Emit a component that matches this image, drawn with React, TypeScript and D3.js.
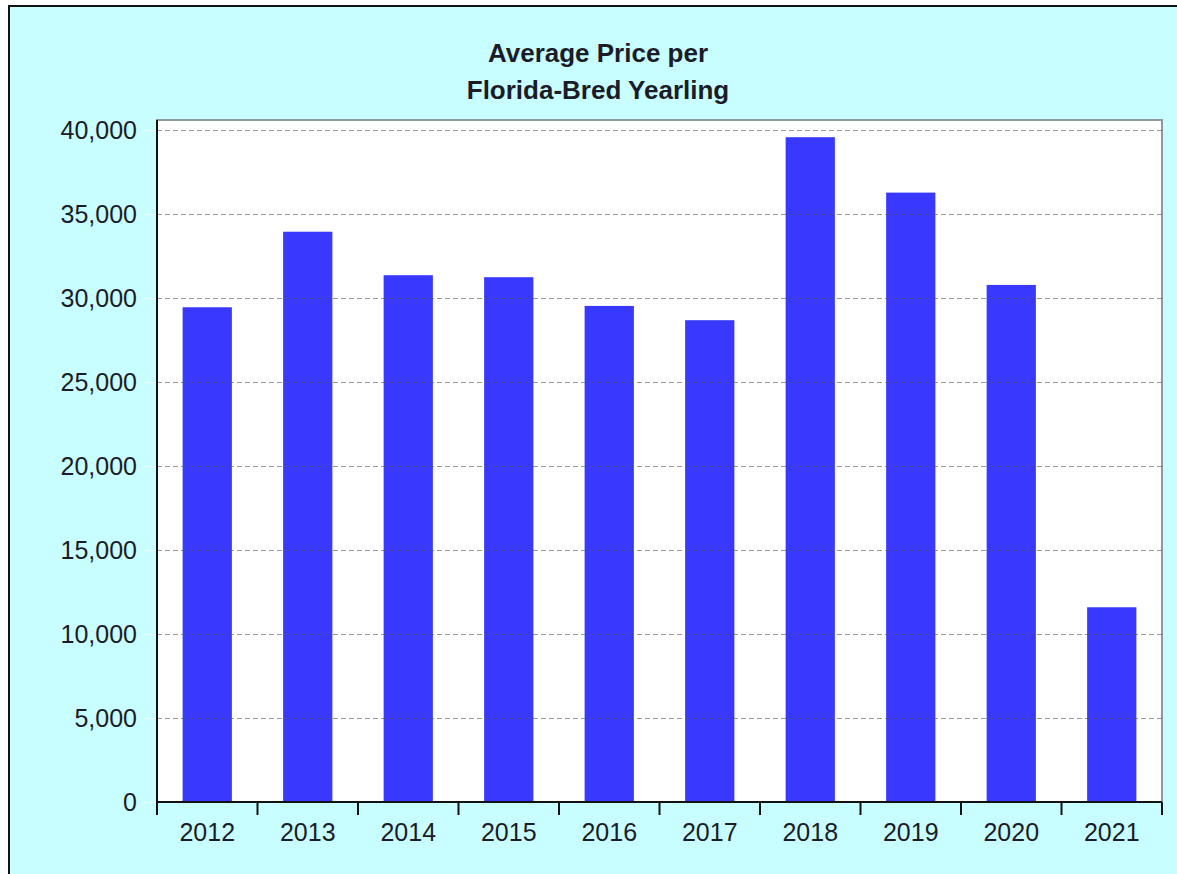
import { useEffect, useRef } from 'react';
import * as d3 from 'd3';

const years = ['2012', '2013', '2014', '2015', '2016', '2017', '2018', '2019', '2020', '2021'];
const avgPrice = [29470, 33970, 31380, 31260, 29550, 28700, 39600, 36300, 30800, 11600];
const yTicks = [0, 5000, 10000, 15000, 20000, 25000, 30000, 35000, 40000];
const titleLines = ['Average Price per', 'Florida-Bred Yearling'];

export default function App() {
  const svgRef = useRef<SVGSVGElement>(null);

  useEffect(() => {
    if (!svgRef.current) return;
    const svg = d3.select(svgRef.current);
    svg.selectAll('*').remove();

    const width = 1177;
    const height = 874;
    const plot = { left: 157, right: 1162, top: 120, bottom: 802 };
    const font = 'Arial, "Liberation Sans", sans-serif';

    // outer panel
    svg.append('rect').attr('width', width).attr('height', height).attr('fill', '#ffffff');
    svg
      .append('rect')
      .attr('x', 9)
      .attr('y', 6)
      .attr('width', width + 20)
      .attr('height', height + 20)
      .attr('fill', '#c8feff')
      .attr('stroke', '#111')
      .attr('stroke-width', 2);

    const x = d3.scaleBand().domain(years).range([plot.left, plot.right]).padding(0);
    const y = d3.scaleLinear().domain([0, 40625]).range([plot.bottom, plot.top]);

    // plot background
    svg
      .append('rect')
      .attr('x', plot.left)
      .attr('y', plot.top)
      .attr('width', plot.right - plot.left)
      .attr('height', plot.bottom - plot.top)
      .attr('fill', '#ffffff')
      .attr('stroke', '#8c9a9a')
      .attr('stroke-width', 2);

    // bars
    const bw = x.bandwidth() * 0.49;
    svg
      .append('g')
      .selectAll('rect')
      .data(years)
      .join('rect')
      .attr('x', (d) => x(d)! + (x.bandwidth() - bw) / 2)
      .attr('y', (_, i) => y(avgPrice[i]))
      .attr('width', bw)
      .attr('height', (_, i) => plot.bottom - y(avgPrice[i]))
      .attr('fill', '#3838ff');

    // dashed gridlines (drawn over the bars)
    const grid = svg.append('g');
    yTicks
      .filter((t) => t > 0)
      .forEach((t) => {
        grid
          .append('line')
          .attr('x1', plot.left)
          .attr('x2', plot.right)
          .attr('y1', Math.round(y(t)) + 0.5)
          .attr('y2', Math.round(y(t)) + 0.5)
          .attr('stroke', '#555')
          .attr('stroke-opacity', 0.6)
          .attr('stroke-dasharray', '5,3');
      });

    // y axis
    const yAxis = svg.append('g').attr('transform', `translate(${plot.left},0)`);
    yAxis
      .append('line')
      .attr('x1', 0)
      .attr('x2', 0)
      .attr('y1', plot.top)
      .attr('y2', plot.bottom)
      .attr('stroke', '#111')
      .attr('stroke-width', 2);
    yTicks.forEach((t) => {
      yAxis
        .append('line')
        .attr('x1', -14)
        .attr('x2', -1)
        .attr('y1', Math.round(y(t)) + 0.5)
        .attr('y2', Math.round(y(t)) + 0.5)
        .attr('stroke', '#eefcfc');
      yAxis
        .append('text')
        .attr('x', -20)
        .attr('y', y(t) + 8.5)
        .attr('text-anchor', 'end')
        .attr('font-family', font)
        .attr('font-size', 25)
        .attr('fill', '#1c1c28')
        .text(d3.format(',')(t));
    });

    // x axis
    const xAxis = svg.append('g').attr('transform', `translate(0,${plot.bottom})`);
    xAxis
      .append('line')
      .attr('x1', plot.left)
      .attr('x2', plot.right)
      .attr('stroke', '#111')
      .attr('stroke-width', 2);
    const edges = years.map((d) => x(d)!).concat([plot.right]);
    edges.forEach((e) => {
      xAxis
        .append('line')
        .attr('x1', e)
        .attr('x2', e)
        .attr('y1', 0)
        .attr('y2', 13)
        .attr('stroke', '#111')
        .attr('stroke-width', 2);
    });
    years.forEach((d) => {
      xAxis
        .append('text')
        .attr('x', x(d)! + x.bandwidth() / 2)
        .attr('y', 39)
        .attr('text-anchor', 'middle')
        .attr('font-family', font)
        .attr('font-size', 25)
        .attr('fill', '#1c1c28')
        .text(d);
    });

    // title
    titleLines.forEach((line, i) => {
      svg
        .append('text')
        .attr('x', 598)
        .attr('y', 62 + i * 37)
        .attr('text-anchor', 'middle')
        .attr('font-family', font)
        .attr('font-size', 26)
        .attr('font-weight', 'bold')
        .attr('fill', '#1c1c28')
        .text(line);
    });
  }, []);

  return (
    <div style={{ position: 'absolute', left: 0, top: 0 }}>
      <svg ref={svgRef} width={1177} height={874} style={{ display: 'block' }} />
    </div>
  );
}
